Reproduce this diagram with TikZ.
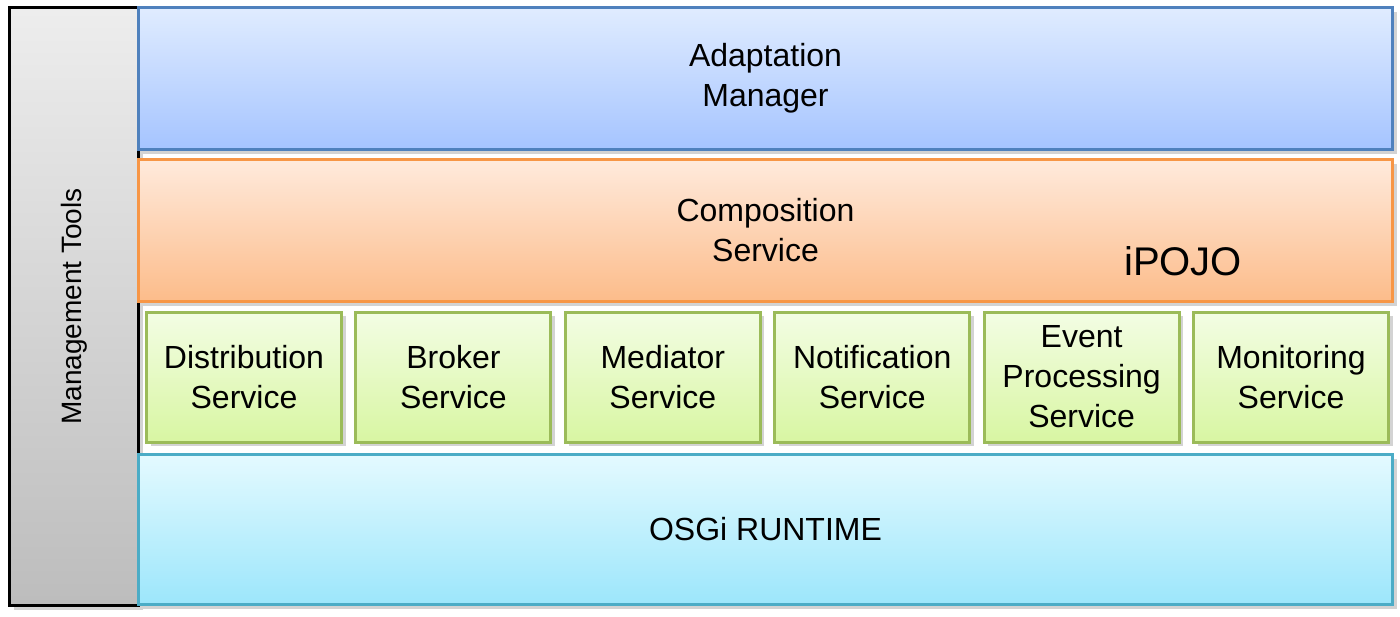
\documentclass[tikz,border=0pt]{standalone}
\usepackage{fontspec}
\setmainfont{Liberation Sans}
\usetikzlibrary{shadows,positioning}

\definecolor{adaptborder}{HTML}{4F81BD}
\definecolor{adapttop}{HTML}{E0ECFF}
\definecolor{adaptbottom}{HTML}{A5C4FF}
\definecolor{compborder}{HTML}{F79646}
\definecolor{comptop}{HTML}{FFEADC}
\definecolor{compbottom}{HTML}{FCBC8A}
\definecolor{servborder}{HTML}{9BBB59}
\definecolor{servtop}{HTML}{F3FDE4}
\definecolor{servbottom}{HTML}{D8F6A2}
\definecolor{osgiborder}{HTML}{4BACC6}
\definecolor{osgitop}{HTML}{E4FAFF}
\definecolor{osgibottom}{HTML}{9CE6FB}

\begin{document}
\begin{tikzpicture}[x=0.5pt,y=-0.5pt,node distance=5.7pt]
	\tikzstyle{layer}=[draw, line width=1.5pt, anchor=north west, inner sep=0pt, align=center,
		font=\fontsize{16}{20}\selectfont,
		drop shadow={opacity=0.35, shadow xshift=2pt, shadow yshift=-2pt}]
	\tikzstyle{service}=[layer, anchor=west, draw=servborder, top color=servtop,
		bottom color=servbottom, minimum width=97.5pt, minimum height=65pt]
	\useasboundingbox (0,0) rectangle (1400,616);
	%Management column
	\node[layer, draw=black, top color=black!7, bottom color=black!26,
		minimum width=64.5pt, minimum height=299pt](tools) at (8,6){};
	\node[rotate=90, font=\fontsize{14}{17}\selectfont](toolslabel) at (tools.center){Management Tools};
	%Top layers
	\node[layer, draw=adaptborder, top color=adapttop, bottom color=adaptbottom,
		minimum width=627pt, minimum height=71pt](adapt) at (137,6){Adaptation\\Manager};
	\node[layer, draw=compborder, top color=comptop, bottom color=compbottom,
		minimum width=627pt, minimum height=71pt](comp) at (137,158){Composition\\Service};
	\node[font=\fontsize{20}{24}\selectfont](ipojo) at (1183,261){iPOJO};
	%Service row
	\node[service](distrib) at (145,377){Distribution\\Service};
	\node[service](broker)[right=of distrib]{Broker\\Service};
	\node[service](mediator)[right=of broker]{Mediator\\Service};
	\node[service](notif)[right=of mediator]{Notification\\Service};
	\node[service](event)[right=of notif]{Event\\Processing\\Service};
	\node[service](monitor)[right=of event]{Monitoring\\Service};
	%Runtime
	\node[layer, draw=osgiborder, top color=osgitop, bottom color=osgibottom,
		minimum width=627pt, minimum height=75pt](osgi) at (137,453){OSGi RUNTIME};
\end{tikzpicture}
\end{document}
